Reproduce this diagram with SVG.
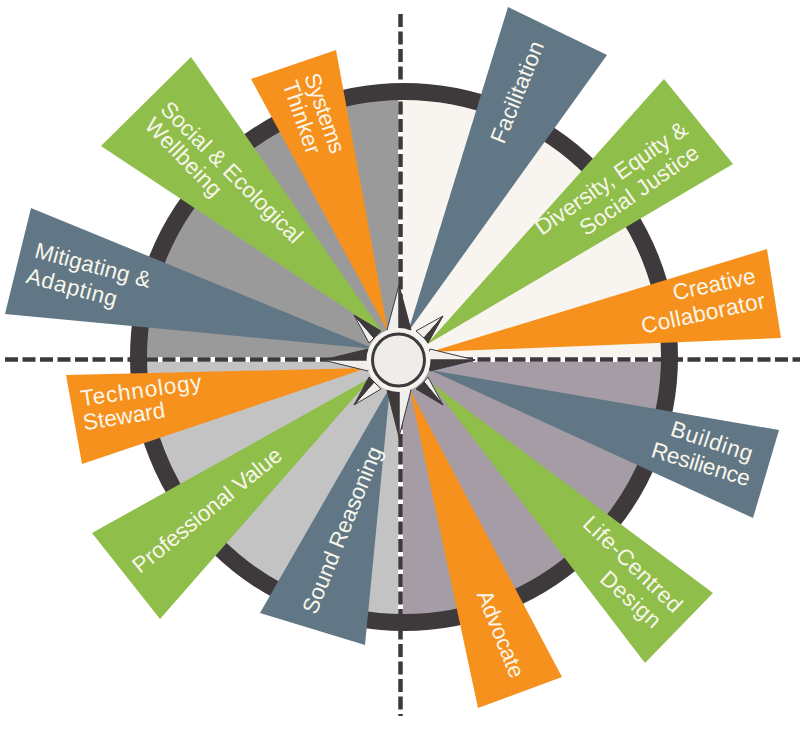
<svg xmlns="http://www.w3.org/2000/svg" width="800" height="734" viewBox="0 0 800 734">
<style>
.t{fill:#617785}.g{fill:#8fbe4a}.o{fill:#f7911e}
text{font-family:"Liberation Sans",Arial,sans-serif;font-size:22.500px;fill:#f8f6ea;text-anchor:middle}
.axis{fill:none;stroke:#3e393b;stroke-width:4.500;stroke-dasharray:13 4.500}
.dk{fill:#3e393b;stroke:#3e393b;stroke-width:1;stroke-linejoin:miter}
.lt{fill:#f1efeb;stroke:#3e393b;stroke-width:1;stroke-linejoin:miter}
</style>
<rect width="800" height="734" fill="#fff"/>
<g id="dial">
<path d="M398 357V99.100A258 258 0 0 0 146 357Z" fill="#9b9a9b"/>
<path d="M403 357V99A258 258 0 0 1 662 357Z" fill="#f8f5f0"/>
<path d="M398 362V614.900A258 258 0 0 1 146.050 362Z" fill="#c3c3c3"/>
<path d="M403 362V615A258 258 0 0 0 661.950 362Z" fill="#a59ca5"/>
<circle cx="404" cy="357" r="265.500" fill="none" stroke="#3e393b" stroke-width="17"/>
</g>
<g id="connectors">
<path class="axis" d="M5 359.500H800"/>
<path class="axis" d="M400.500 14V716"/>
</g>
<g id="systems-thinker"><polygon class="o" points="251,79 336,50 388,332"/>
<text transform="translate(325,113) rotate(71)" dy=".35em" textLength="83">Systems</text>
<text transform="translate(302,117) rotate(71)" dy=".35em" textLength="76">Thinker</text></g>
<g id="social-ecological"><polygon class="g" points="191,57 101,146 383,333"/>
<text transform="translate(232,172) rotate(45)" dy=".35em" textLength="190">Social &amp; Ecological</text>
<text transform="translate(184,157) rotate(46)" dy=".35em" textLength="100">Wellbeing</text></g>
<g id="mitigating"><polygon class="t" points="31,208 5,314 375,349"/>
<text transform="translate(93,265) rotate(15)" dy=".35em" textLength="119">Mitigating &amp;</text>
<text transform="translate(72,287) rotate(15)" dy=".35em" textLength="93">Adapting</text></g>
<g id="facilitation"><polygon class="t" points="508,7 607,55 408,332"/>
<text transform="translate(517,92) rotate(-68)" dy=".35em" textLength="108">Facilitation</text></g>
<g id="diversity"><polygon class="g" points="664,79 733,164 426,345"/>
<text transform="translate(611,178) rotate(-35)" dy=".35em" textLength="180">Diversity, Equity &amp;</text>
<text transform="translate(639,190) rotate(-35)" dy=".35em" textLength="140">Social Justice</text></g>
<g id="creative"><polygon class="o" points="767,249 781,338 430,352"/>
<text transform="translate(714,284) rotate(-12)" dy=".35em" textLength="84">Creative</text>
<text transform="translate(703,313) rotate(-12)" dy=".35em" textLength="126">Collaborator</text></g>
<g id="technology"><polygon class="o" points="66,375 82,464 367,368"/>
<text transform="translate(141,390) rotate(-8)" dy=".35em" textLength="122">Technology</text>
<text transform="translate(124,416) rotate(-9)" dy=".35em" textLength="83">Steward</text></g>
<g id="professional"><polygon class="g" points="92,533 160,619 372,377"/>
<text transform="translate(207,510) rotate(-39)" dy=".35em" textLength="185">Professional Value</text></g>
<g id="sound"><polygon class="t" points="260,613 365,645 390,387"/>
<text transform="translate(342,530) rotate(-68)" dy=".35em" textLength="178">Sound Reasoning</text></g>
<g id="advocate"><polygon class="o" points="562,677 478,708 410,390"/>
<text transform="translate(501,634) rotate(68)" dy=".35em" textLength="92">Advocate</text></g>
<g id="life-centred"><polygon class="g" points="713,593 645,663 430,382"/>
<text transform="translate(633,564) rotate(44)" dy=".35em" textLength="128">Life-Centred</text>
<text transform="translate(631,599) rotate(42)" dy=".35em" textLength="73">Design</text></g>
<g id="building"><polygon class="t" points="779,430 753,518 430,370"/>
<text transform="translate(712,441) rotate(18)" dy=".35em" textLength="85">Building</text>
<text transform="translate(701,464) rotate(17)" dy=".35em" textLength="102">Resilience</text></g>
<g id="compass">
<polygon class="lt" points="399,285 387,330 399,335"/><polygon class="dk" points="399,285 411,330 399,335"/>
<polygon class="lt" points="475,360 430,349 425,360"/><polygon class="dk" points="475,360 430,371 425,360"/>
<polygon class="lt" points="399,437 411,390 399,385"/><polygon class="dk" points="399,437 387,390 399,385"/>
<polygon class="lt" points="323,360 368,371 373,360"/><polygon class="dk" points="323,360 368,349 373,360"/>
<polygon class="lt" points="443,316 416,331 424,338"/><polygon class="dk" points="443,316 428,343 424,338"/>
<polygon class="lt" points="443,405 428,377 424,382"/><polygon class="dk" points="443,405 416,389 424,382"/>
<polygon class="lt" points="354,405 381,389 374,382"/><polygon class="dk" points="354,405 369,377 374,382"/>
<polygon class="lt" points="354,315 369,343 374,338"/><polygon class="dk" points="354,315 381,331 374,338"/>
<circle cx="398.500" cy="360" r="32" fill="#f5f3ee"/>
<circle cx="398.500" cy="360" r="26" fill="#efedea" stroke="#3e393b" stroke-width="3"/>
</g>
</svg>
